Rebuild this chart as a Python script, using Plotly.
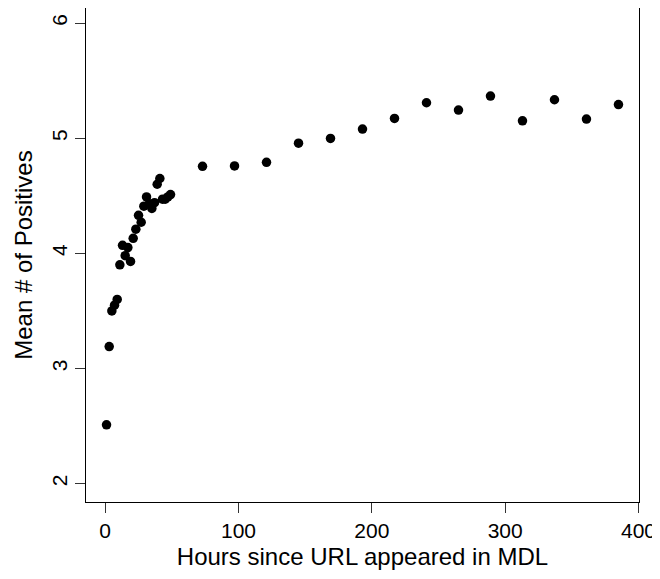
import plotly.graph_objects as go

hours = [1, 3, 5, 7, 9, 11, 13, 15, 17, 19, 21, 23, 25, 27, 29, 31, 33, 35, 37, 39,
         41, 43, 45, 47, 49, 73, 97, 121, 145, 169, 193, 217, 241, 265, 289, 313,
         337, 361, 385]
mean_positives = [2.51, 3.19, 3.50, 3.55, 3.60, 3.90, 4.07, 3.98, 4.05, 3.93,
                  4.13, 4.21, 4.33, 4.27, 4.41, 4.49, 4.43, 4.39, 4.44, 4.60,
                  4.65, 4.47, 4.47, 4.49, 4.51, 4.756, 4.759, 4.791, 4.957, 4.998,
                  5.079, 5.172, 5.308, 5.244, 5.366, 5.151, 5.334, 5.166, 5.292]

x_ticks = [0, 100, 200, 300, 400]
y_ticks = [2, 3, 4, 5, 6]

font_family = "Liberation Sans, Arial, sans-serif"
tick_fs = 21
title_fs = 24

fig = go.Figure()
fig.add_trace(go.Scatter(
    x=hours, y=mean_positives, mode="markers",
    marker=dict(color="black", size=9.5, line=dict(width=0)),
    hoverinfo="x+y",
))

fig.update_layout(
    width=652, height=571,
    margin=dict(l=78, r=21, t=0, b=77),
    paper_bgcolor="white", plot_bgcolor="white",
    font=dict(family=font_family, size=tick_fs, color="black"),
    showlegend=False,
)
fig.update_xaxes(
    range=[-14.4, 400.4], tickmode="array", tickvals=x_ticks,
    ticktext=[str(v) for v in x_ticks],
    ticks="outside", ticklen=10, tickwidth=1, tickcolor="#333",
    showline=True, linecolor="black", linewidth=1, mirror=True,
    showgrid=False, zeroline=False,
    tickfont=dict(size=tick_fs),
    title=dict(text="Hours since URL appeared in MDL", font=dict(size=title_fs), standoff=6),
)
fig.update_yaxes(
    range=[1.84, 6.131], tickmode="array", tickvals=y_ticks,
    ticktext=[str(v) for v in y_ticks],
    ticks="outside", ticklen=10, tickwidth=1, tickcolor="#333",
    tickangle=-90,
    showline=True, linecolor="black", linewidth=1, mirror=True,
    showgrid=False, zeroline=False,
    tickfont=dict(size=tick_fs),
    title=dict(text="Mean # of Positives", font=dict(size=title_fs), standoff=8),
)

fig.write_html("out.html")
